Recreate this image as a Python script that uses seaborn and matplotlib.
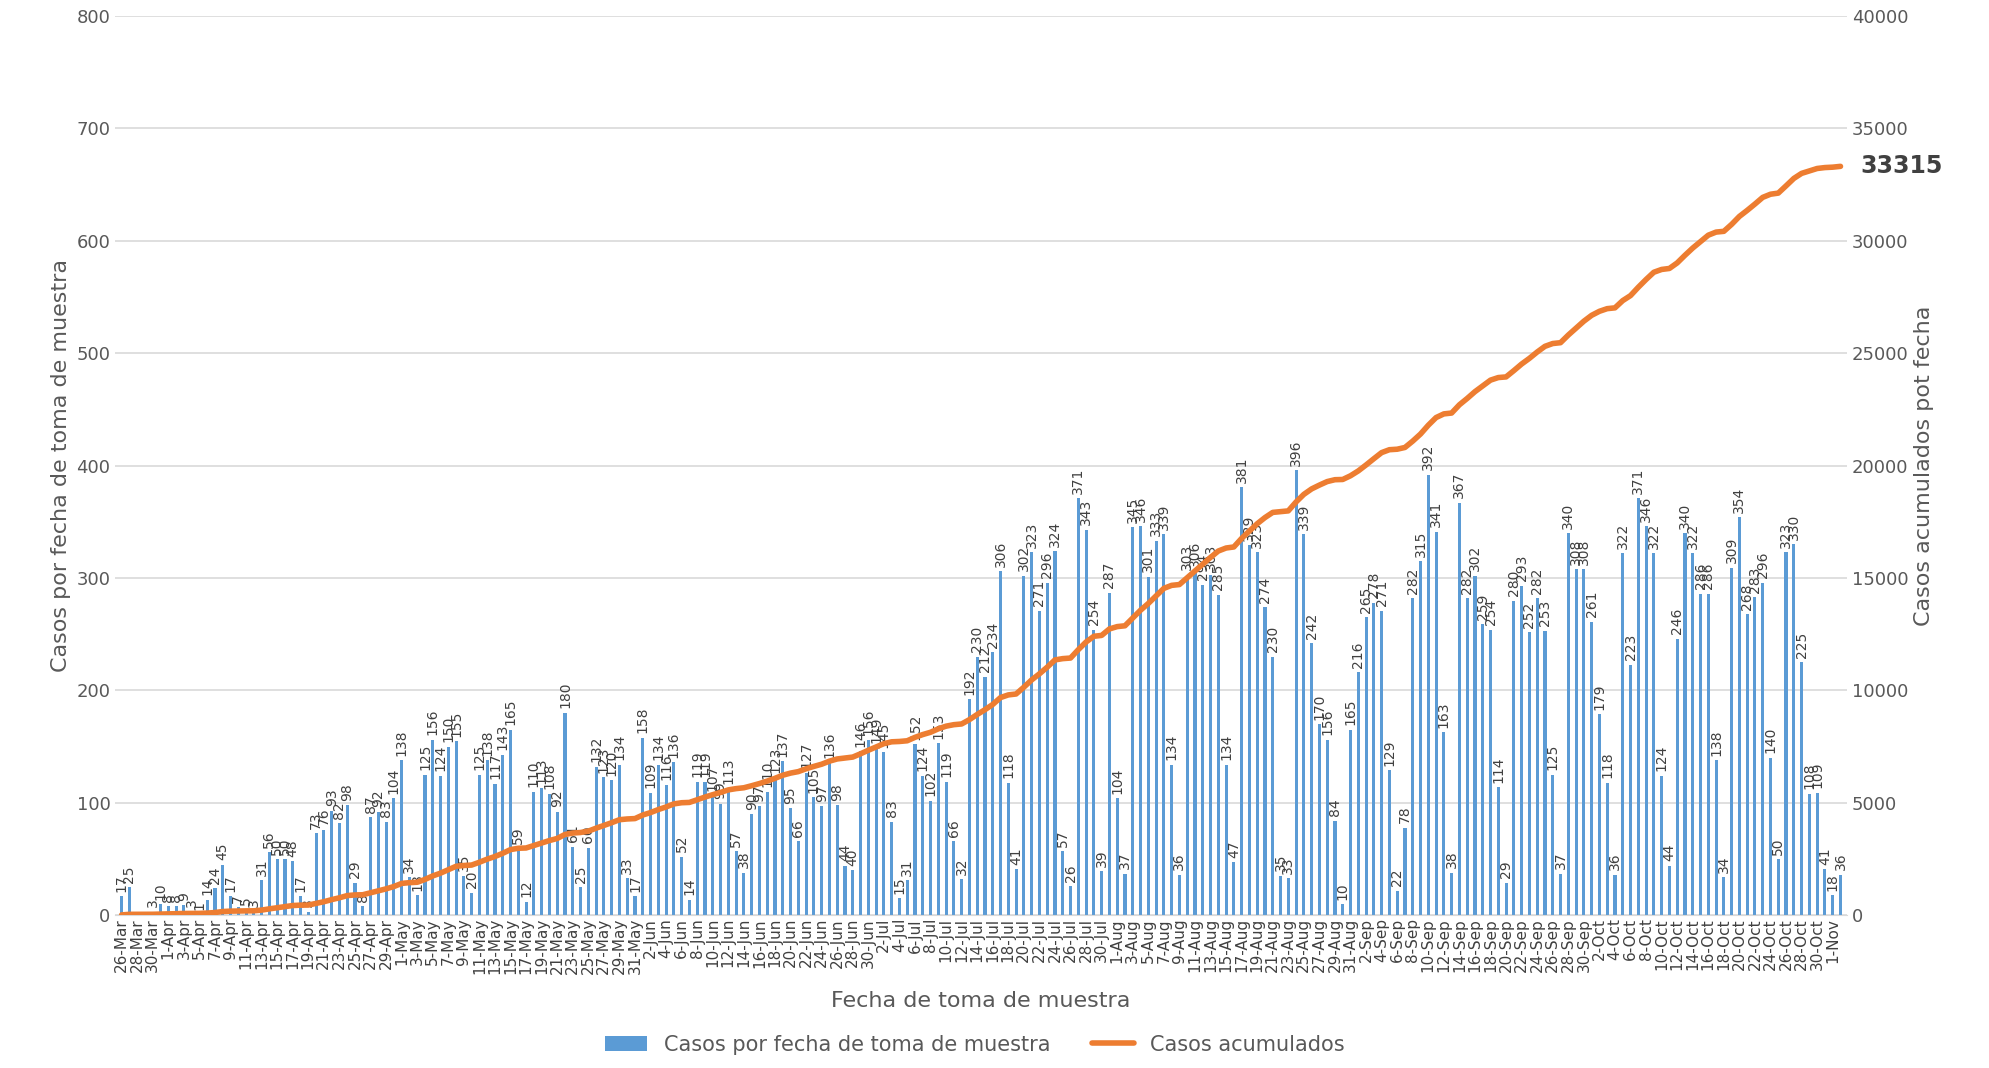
import numpy as np
import pandas as pd
import matplotlib
matplotlib.use("Agg")
import matplotlib.pyplot as plt
import seaborn as sns

sns.set_style("white")
plt.rcParams['font.family'] = ['DejaVu Sans']

# casos diarios por fecha de toma de muestra (26-Mar .. 2-Nov)
casos = [17, 25, 0, 0, 3, 10, 8, 8, 9, 3, 1, 14,
         24, 45, 17, 7, 5, 3, 31, 56, 50, 50,
         48, 17, 3, 73, 76, 93, 82, 98, 29, 8,
         87, 92, 83, 104, 138, 34, 18, 125, 156, 124,
         150, 155, 35, 20, 125, 138, 117, 143, 165, 59,
         12, 110, 113, 108, 92, 180, 61, 25, 60, 132,
         123, 120, 134, 33, 17, 158, 109, 134, 116, 136,
         52, 14, 119, 119, 107, 99, 113, 57, 38, 90,
         97, 110, 123, 137, 95, 66, 127, 105, 97, 136,
         98, 44, 40, 146, 156, 149, 145, 83, 15, 31,
         152, 124, 102, 153, 119, 66, 32, 192, 230, 212,
         234, 306, 118, 41, 302, 323, 271, 296, 324, 57,
         26, 371, 343, 254, 39, 287, 104, 37, 345, 346,
         301, 333, 339, 134, 36, 303, 306, 294, 303, 285,
         134, 47, 381, 329, 323, 274, 230, 35, 33, 396,
         339, 242, 170, 156, 84, 10, 165, 216, 265, 278,
         271, 129, 22, 78, 282, 315, 392, 341, 163, 38,
         367, 282, 302, 259, 254, 114, 29, 280, 293, 252,
         282, 253, 125, 37, 340, 308, 308, 261, 179, 118,
         36, 322, 223, 371, 346, 322, 124, 44, 246, 340,
         322, 286, 286, 138, 34, 309, 354, 268, 283, 296,
         140, 50, 323, 330, 225, 108, 109, 41, 18, 36]
fechas = pd.date_range("2020-03-26", periods=len(casos), freq="D")
etiquetas = [f"{d.day}-{d.strftime('%b')}" for d in fechas]
acumulados = np.cumsum(casos)
total_final = 33315

df = pd.DataFrame({"fecha": etiquetas, "casos": casos, "acum": acumulados})
n = len(df)

fig, ax = plt.subplots(figsize=(19.9, 10.68), dpi=100)
fig.subplots_adjust(left=0.058, right=0.928, top=0.985, bottom=0.143)

sns.barplot(data=df, x="fecha", y="casos", color="#5B9BD5", saturation=1,
            width=0.4, linewidth=0, ax=ax, label="Casos por fecha de toma de muestra")
if ax.get_legend() is not None:
    ax.get_legend().remove()
for i, v in enumerate(casos):
    if v > 0:
        ax.text(i, v + 4, str(v), rotation=90, ha="center", va="bottom",
                fontsize=10, color="#404040")

ax.set_ylim(0, 800)
ax.set_yticks(range(0, 801, 100))
ax.set_xlim(-0.8, n - 0.2)
ax.set_xticks(range(0, n, 2))
ax.set_xticklabels(etiquetas[::2], rotation=90, fontsize=11, color="#404040")
ax.tick_params(axis="y", labelsize=13, colors="#595959", length=0)
ax.tick_params(axis="x", length=0, pad=2)
ax.yaxis.grid(True, color="#D9D9D9", linewidth=1.2)
ax.set_axisbelow(True)
for s in ["top", "left", "right"]:
    ax.spines[s].set_visible(False)
ax.spines["bottom"].set_color("#D9D9D9")
ax.set_xlabel("Fecha de toma de muestra", fontsize=16, color="#595959", labelpad=12)
ax.set_ylabel("Casos por fecha de toma de muestra", fontsize=16, color="#595959")

ax2 = ax.twinx()
sns.lineplot(x=np.arange(n), y=acumulados, color="#ED7D31", linewidth=4,
             ax=ax2, label="Casos acumulados", legend=False)
ax2.set_ylim(0, 40000)
ax2.set_yticks(range(0, 40001, 5000))
ax2.tick_params(axis="y", labelsize=13, colors="#595959", length=0)
ax2.set_ylabel("Casos acumulados pot fecha", fontsize=16, color="#595959")
for s in ["top", "left", "right", "bottom"]:
    ax2.spines[s].set_visible(False)
ax2.text(n + 1.5, acumulados[-1], str(total_final), fontsize=17,
         fontweight="bold", color="#404040", va="center", ha="left")

h1, l1 = ax.get_legend_handles_labels()
h2, l2 = ax2.get_legend_handles_labels()
fig.legend(h1 + h2, l1 + l2, loc="lower center", ncol=2, frameon=False,
           fontsize=15, bbox_to_anchor=(0.49, -0.005), labelcolor="#595959")

fig.savefig("out.png", dpi=100)
